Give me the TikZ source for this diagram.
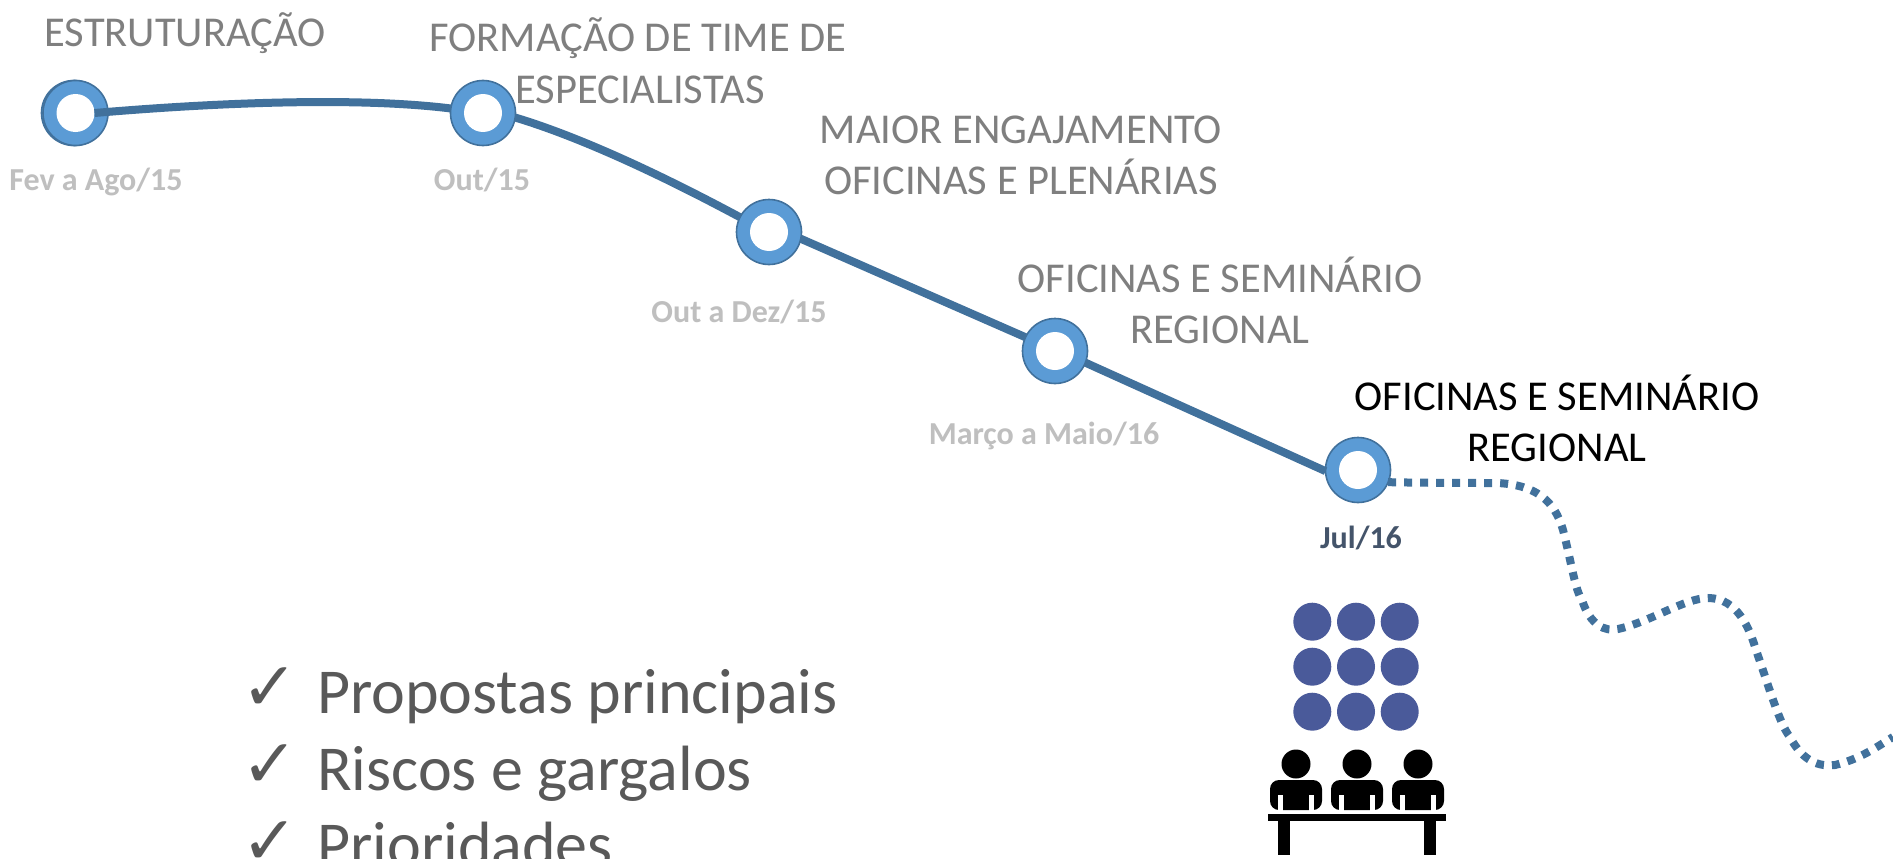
\documentclass[tikz,border=0pt]{standalone}
\usepackage{fontspec}
\setmainfont{Carlito}
\newfontfamily\checkfont{DejaVu Sans}
\definecolor{ringfill}{HTML}{5B9BD5}
\definecolor{ringline}{HTML}{41719C}
\definecolor{pathblue}{HTML}{41719C}
\definecolor{titlegrey}{HTML}{7F7F7F}
\definecolor{dategrey}{HTML}{BFBFBF}
\definecolor{datedark}{HTML}{44546A}
\definecolor{listgrey}{HTML}{595959}
\definecolor{dotblue}{HTML}{4A5A9A}
\tikzset{
  ring/.style={circle,draw=ringline,line width=1.6pt,fill=ringfill,minimum size=65pt,inner sep=0pt,outer sep=0pt},
  hole/.style={circle,fill=white,minimum size=38pt,inner sep=0pt,outer sep=0pt},
  solidpath/.style={draw=pathblue,line width=8pt},
  dotpath/.style={draw=pathblue,line width=8pt,dash pattern=on 8pt off 8pt},
  title/.style={anchor=base,inner sep=0pt,text=titlegrey,font=\fontsize{42.5}{50}\selectfont},
  titleblack/.style={title,text=black},
  datelabel/.style={anchor=base,inner sep=0pt,text=dategrey,font=\fontsize{32}{38}\selectfont\bfseries},
  listitem/.style={anchor=base west,inner sep=0pt,text=listgrey,font=\fontsize{64}{74}\selectfont},
  checkitem/.style={anchor=base west,inner sep=0pt,text=listgrey,font=\fontsize{68}{80}\selectfont\checkfont},
  crowd/.style={circle,fill=dotblue,minimum size=38pt,inner sep=0pt,outer sep=0pt},
  head/.style={circle,fill=black,minimum size=29pt,inner sep=0pt,outer sep=0pt},
  body/.style={fill=black,rounded corners=9pt},
  slit/.style={fill=white},
}
\begin{document}
\begin{tikzpicture}[x=1pt,y=-1pt]
\useasboundingbox (0,0) rectangle (1893,859);
\clip (0,0) rectangle (1893,859);
\fill[white] (0,0) rectangle (1893,859);

% rings
\node[ring] (c1back) at (74,113) {};
\node[ring] (c1) at (75.5,113) {};
\node[ring] (c2) at (483,113) {};
\node[ring] (c3) at (769,232) {};
\node[ring] (c4) at (1055,351) {};
\node[ring] (c5) at (1358,470) {};
\node[hole] (h1) at (c1) {};
\node[hole] (h2) at (c2) {};
\node[hole] (h3) at (c3) {};
\node[hole] (h4) at (c4) {};
\node[hole] (h5) at (c5) {};

% connectors
\draw[solidpath] (h1.east) .. controls (200,104) and (350,96) .. (c2.172);
\draw[solidpath] (c2.-8) .. controls (590,140) and (680,185) .. (c3.153);
\draw[solidpath] (c3.-12) -- (c4.155);
\draw[solidpath] (c4.-21) -- (c5.182);
\coordinate (dotend) at (1893,737);
\draw[dotpath] (c5.-22) .. controls (1430,483) and (1470,483) .. (1497,483)
  .. controls (1545,485) and (1557,510) .. (1563,530)
  .. controls (1572,565) and (1575,590) .. (1582,600)
  .. controls (1590,625) and (1605,632) .. (1618,629)
  .. controls (1650,622) and (1685,598) .. (1708,598)
  .. controls (1738,598) and (1750,630) .. (1756,650)
  .. controls (1770,690) and (1780,725) .. (1790,737)
  .. controls (1803,762) and (1820,767) .. (1835,765)
  .. controls (1860,759) and (1875,748) .. (dotend);

% titles
\node[title] (t1) at (185,47) {ESTRUTURAÇÃO};
\node[title] (t2a) at (638,52) {FORMAÇÃO DE TIME DE};
\node[title] (t2b) at (640,103) {ESPECIALISTAS};
\node[title] (t3a) at (1021,143) {MAIOR ENGAJAMENTO};
\node[title] (t3b) at (1021,194) {OFICINAS E PLENÁRIAS};
\node[title] (t4a) at (1220,292) {OFICINAS E SEMINÁRIO};
\node[title] (t4b) at (1220,343) {REGIONAL};
\node[titleblack] (t5a) at (1557,410) {OFICINAS E SEMINÁRIO};
\node[titleblack] (t5b) at (1557,461) {REGIONAL};

% dates
\node[datelabel] (d1) at (96,190) {Fev a Ago/15};
\node[datelabel] (d2) at (482,190) {Out/15};
\node[datelabel] (d3) at (739,322) {Out a Dez/15};
\node[datelabel] (d4) at (1044,444) {Março a Maio/16};
\node[datelabel,text=datedark] (d5) at (1361,548) {Jul/16};

% list
\node[checkitem] (k1) at (241,710) {✓};
\node[checkitem] (k2) at (241,787) {✓};
\node[checkitem] (k3) at (241,864) {✓};
\node[listitem] (l1) at (317,713) {Propostas principais};
\node[listitem] (l2) at (317,790) {Riscos e gargalos};
\node[listitem] (l3) at (317,866) {Prioridades};

% crowd icon
\foreach \i/\x in {1/1312.3,2/1356,3/1399.7}
  \foreach \j/\y in {1/621.7,2/666.7,3/711.7}
    \node[crowd] (m\i\j) at (\x,\y) {};

% people at table
\foreach \i/\x in {1/1296,2/1357,3/1418}{
  \node[head] (p\i) at (\x,764) {};
  \fill[body] (\x-26,810) -- (\x-26,780) -- (\x+26,780) -- (\x+26,810) -- cycle;
  \fill[slit] (\x-18,795) rectangle (\x-13,811);
  \fill[slit] (\x+13,795) rectangle (\x+18,811);
}
\fill[black] (1268,814) rectangle (1446,821);
\fill[black] (1278,821) rectangle (1290,855);
\fill[black] (1424,821) rectangle (1436,855);
\end{tikzpicture}
\end{document}
